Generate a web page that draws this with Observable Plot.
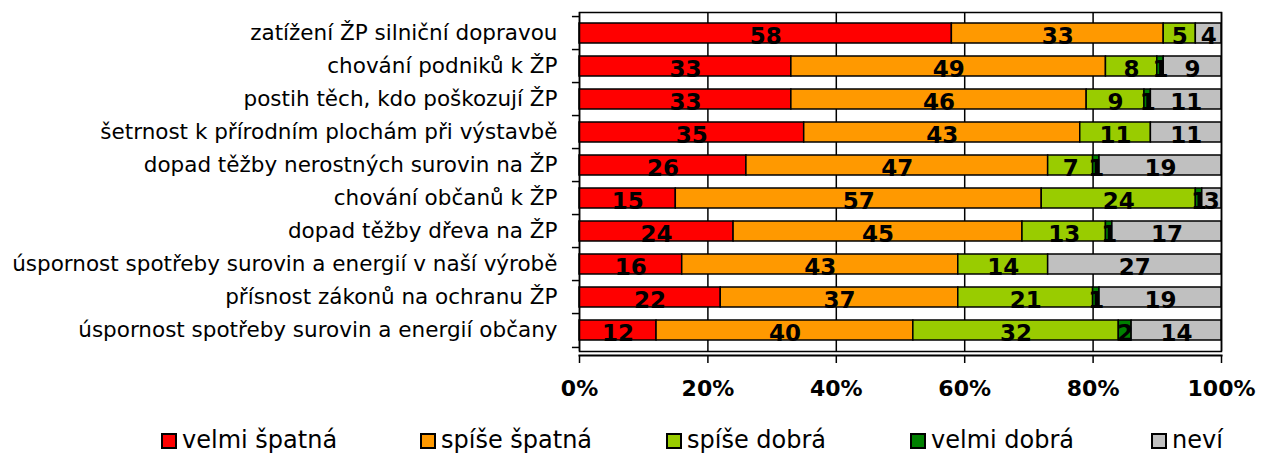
<!DOCTYPE html>
<html>
<head>
<meta charset="utf-8">
<script src="https://cdn.jsdelivr.net/npm/d3@7"></script>
<script src="https://cdn.jsdelivr.net/npm/@observablehq/plot@0.6"></script>
<style>
  html, body { margin: 0; padding: 0; background: #fff; }
  #chart { width: 1262px; }
  #legend { position: relative; width: 1262px; height: 44px; font-family: "DejaVu Sans", Verdana, sans-serif; font-size: 24px; color: #000; }
  .item { position: absolute; top: 16px; display: flex; align-items: center; white-space: nowrap; line-height: 28px; }
  .sw { width: 12px; height: 12px; border: 2px solid #000; margin-right: 5px; margin-top: 2px; }
</style>
</head>
<body>
<div id="chart"></div>
<div id="legend"></div>
<script>
const categories = [
  "zatížení ŽP silniční dopravou",
  "chování podniků k ŽP",
  "postih těch, kdo poškozují ŽP",
  "šetrnost k přírodním plochám při výstavbě",
  "dopad těžby nerostných surovin na ŽP",
  "chování občanů k ŽP",
  "dopad těžby dřeva na ŽP",
  "úspornost spotřeby surovin a energií v naší výrobě",
  "přísnost zákonů na ochranu ŽP",
  "úspornost spotřeby surovin a energií občany"
];
const series = ["velmi špatná", "spíše špatná", "spíše dobrá", "velmi dobrá", "neví"];
const colors = ["#FF0000", "#FF9900", "#99CC00", "#008000", "#C0C0C0"];
const velmiSpatna = [58, 33, 33, 35, 26, 15, 24, 16, 22, 12];
const spiseSpatna = [33, 49, 46, 43, 47, 57, 45, 43, 37, 40];
const spiseDobra  = [5, 8, 9, 11, 7, 24, 13, 14, 21, 32];
const velmiDobra  = [0, 1, 1, 0, 1, 1, 1, 0, 1, 2];
const nevi        = [4, 9, 11, 11, 19, 3, 17, 27, 19, 14];
const xTicks = [0, 20, 40, 60, 80, 100];
const xTickLabels = ["0%", "20%", "40%", "60%", "80%", "100%"];

const seriesValues = [velmiSpatna, spiseSpatna, spiseDobra, velmiDobra, nevi];
const data = [];
categories.forEach((c, i) => {
  series.forEach((s, j) => data.push({cat: c, series: s, value: seriesValues[j][i]}));
});

const W = 1262, H = 410;
const mTop = 12, mBottom = 59, mLeft = 579, mRight = 41;
const step = (H - mTop - mBottom) / categories.length;

const chart = Plot.plot({
  width: W, height: H,
  marginTop: mTop, marginBottom: mBottom, marginLeft: mLeft, marginRight: mRight,
  style: {fontFamily: "'DejaVu Sans', Verdana, sans-serif", background: "#fff", color: "#000"},
  x: {domain: [0, 100]},
  y: {domain: categories, paddingInner: 0.38, paddingOuter: 0.19},
  color: {domain: series, range: colors},
  marks: [
    Plot.ruleX(xTicks, {stroke: "#000", strokeWidth: 1.5}),
    Plot.barX(data, Plot.stackX({
      x: "value", y: "cat", fill: "series", z: "series", order: series,
      stroke: "#000", strokeWidth: 1.5
    })),
    Plot.text(data, Plot.stackX({
      x: "value", y: "cat", z: "series", order: series,
      text: d => d.value > 0 ? String(d.value) : null,
      fontSize: 23, fontWeight: "bold", fill: "#000", dy: 3
    })),
    Plot.frame({stroke: "#000", strokeWidth: 1.5}),
    Plot.frame({anchor: "bottom", stroke: "#000", strokeWidth: 2, dy: 4}),
    Plot.ruleY(categories, {y: d => d, x1: -1.1, x2: 0, dy: -step / 2, stroke: "#000", strokeWidth: 1.5}),
    Plot.ruleY([categories[categories.length - 1]], {y: d => d, x1: -1.1, x2: 0, dy: step / 2, stroke: "#000", strokeWidth: 1.5}),
    Plot.axisY({tickSize: 0, tickPadding: 22, fontSize: 21.5, label: null}),
    Plot.axisX(xTicks, {tickSize: 8, dy: 4, tickPadding: 17, strokeWidth: 1.5, fontSize: 22, fontWeight: "bold",
      tickFormat: d => xTickLabels[xTicks.indexOf(d)], label: null})
  ]
});
document.getElementById("chart").append(chart);

const legendLefts = [161, 420, 666, 910, 1151];
const legend = document.getElementById("legend");
series.forEach((s, j) => {
  const it = document.createElement("div");
  it.className = "item";
  it.style.left = legendLefts[j] + "px";
  const sw = document.createElement("div");
  sw.className = "sw";
  sw.style.background = colors[j];
  const t = document.createElement("span");
  t.textContent = s;
  it.append(sw, t);
  legend.append(it);
});
</script>
</body>
</html>
